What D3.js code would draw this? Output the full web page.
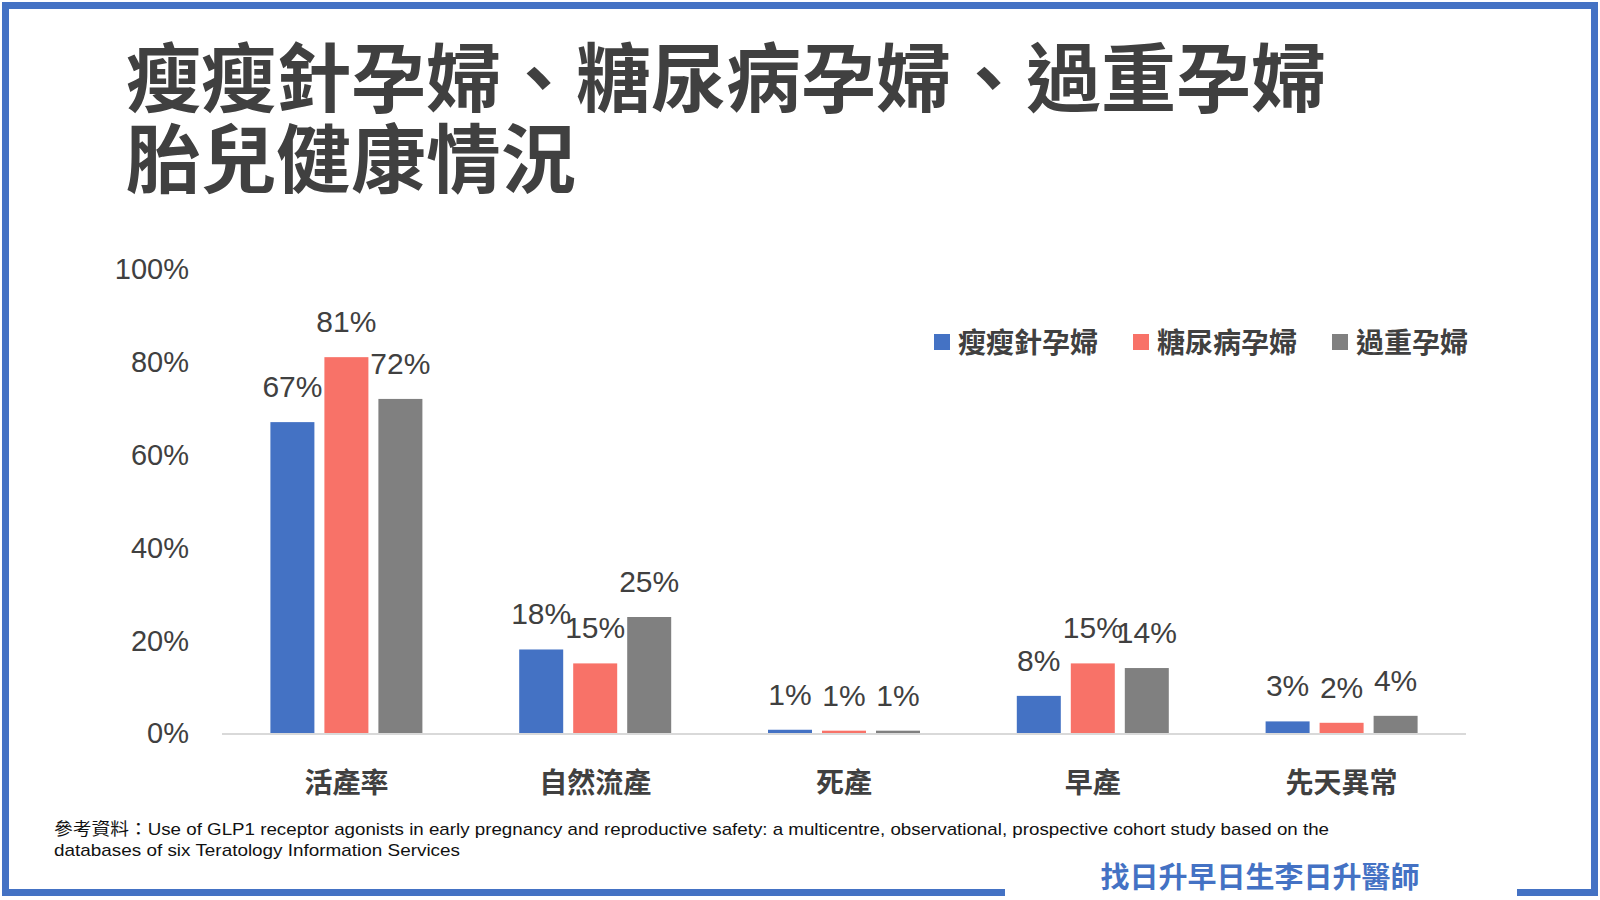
<!DOCTYPE html>
<html>
<head>
<meta charset="utf-8">
<script src="https://cdn.jsdelivr.net/npm/d3@7/dist/d3.min.js"></script>
<style>
  body { margin: 0; background: #fff; }
  svg { display: block; }
  .cjk { font-family: "Noto Sans CJK TC", "Noto Sans CJK SC", sans-serif; }
  .num { font-family: "Liberation Sans", Arial, "Noto Sans CJK TC", sans-serif; }
</style>
</head>
<body>
<div id="chart"></div>
<script>
(function() {
  'use strict';

  // data (percent)
  var categories = ['活產率', '自然流產', '死產', '早產', '先天異常'];
  var seriesNames = ['瘦瘦針孕婦', '糖尿病孕婦', '過重孕婦'];
  var glp1Values = [67, 18, 0.7, 8, 2.5];
  var diabetesValues = [81, 15, 0.5, 15, 2.2];
  var overweightValues = [72, 25, 0.5, 14, 3.7];
  var yTicks = [0, 20, 40, 60, 80, 100];

  var titleLines = ['瘦瘦針孕婦、糖尿病孕婦、過重孕婦', '胎兒健康情況'];
  var sourceLines = [
    '參考資料：Use of GLP1 receptor agonists in early pregnancy and reproductive safety: a multicentre, observational, prospective cohort study based on the',
    'databases of six Teratology Information Services'
  ];
  var signature = '找日升早日生李日升醫師';

  var colors = ['#4472c4', '#f87268', '#808080'];
  var textColor = '#404040';
  var W = 1600, H = 900;

  var seriesValues = [glp1Values, diabetesValues, overweightValues];
  var rows = categories.map(function(c, i) {
    return {
      cat: c,
      vals: seriesNames.map(function(s, j) {
        return { series: s, idx: j, value: seriesValues[j][i] };
      })
    };
  });

  var svg = d3.select('#chart').append('svg')
    .attr('width', W)
    .attr('height', H);

  svg.append('rect').attr('width', W).attr('height', H).attr('fill', '#fff');

  // frame, with a gap in the bottom edge for the signature
  svg.append('rect')
    .attr('x', 5.5).attr('y', 5.5)
    .attr('width', W - 11).attr('height', H - 13)
    .attr('fill', 'none')
    .attr('stroke', '#4472c4')
    .attr('stroke-width', 7);
  svg.append('rect')
    .attr('x', 1005).attr('y', 880)
    .attr('width', 512).attr('height', 20)
    .attr('fill', '#fff');

  // title (single text, two tspans)
  var title = svg.append('text')
    .attr('class', 'cjk')
    .attr('fill', textColor)
    .attr('font-size', 75)
    .attr('font-weight', 700);
  title.selectAll('tspan').data(titleLines).enter().append('tspan')
    .attr('x', 126)
    .attr('y', function(d, i) { return 106 + i * 81; })
    .text(function(d) { return d; });

  // scales
  var x0 = d3.scaleBand()
    .domain(categories)
    .range([222, 1466])
    .padding(0);

  var groupW = 152;
  var x1 = d3.scaleBand()
    .domain(seriesNames)
    .range([0, groupW])
    .paddingInner(10 / 54)
    .paddingOuter(0);

  var y = d3.scaleLinear()
    .domain([0, 100])
    .range([733, 269]);

  // y axis labels
  svg.append('g').selectAll('text')
    .data(yTicks)
    .enter().append('text')
    .attr('class', 'num')
    .attr('x', 189)
    .attr('y', function(d) { return y(d); })
    .attr('dy', '0.36em')
    .attr('text-anchor', 'end')
    .attr('fill', textColor)
    .attr('font-size', 29)
    .text(function(d) { return d + '%'; });

  // baseline
  svg.append('line')
    .attr('x1', x0.range()[0]).attr('x2', x0.range()[1])
    .attr('y1', y(0) + 1).attr('y2', y(0) + 1)
    .attr('stroke', '#d9d9d9')
    .attr('stroke-width', 2);

  var groups = svg.append('g').selectAll('g')
    .data(rows)
    .enter().append('g')
    .attr('transform', function(d) {
      return 'translate(' + (x0(d.cat) + (x0.bandwidth() - groupW) / 2) + ',0)';
    });

  groups.selectAll('rect')
    .data(function(d) { return d.vals; })
    .enter().append('rect')
    .attr('x', function(d) { return x1(d.series); })
    .attr('width', x1.bandwidth())
    .attr('y', function(d) { return y(d.value); })
    .attr('height', function(d) { return y(0) - y(d.value); })
    .attr('fill', function(d) { return colors[d.idx]; });

  groups.selectAll('text')
    .data(function(d) { return d.vals; })
    .enter().append('text')
    .attr('class', 'num')
    .attr('x', function(d) { return x1(d.series) + x1.bandwidth() / 2; })
    .attr('y', function(d) { return y(d.value) - 25; })
    .attr('text-anchor', 'middle')
    .attr('fill', textColor)
    .attr('font-size', 30)
    .text(function(d) { return Math.round(d.value) + '%'; });

  // category labels
  svg.append('g').selectAll('text')
    .data(categories)
    .enter().append('text')
    .attr('class', 'cjk')
    .attr('x', function(d) { return x0(d) + x0.bandwidth() / 2; })
    .attr('y', 793)
    .attr('text-anchor', 'middle')
    .attr('fill', textColor)
    .attr('font-size', 28)
    .attr('font-weight', 700)
    .text(function(d) { return d; });

  // legend
  var legendX = [934, 1133, 1332];
  var legend = svg.append('g').selectAll('g')
    .data(seriesNames)
    .enter().append('g')
    .attr('transform', function(d, i) { return 'translate(' + legendX[i] + ',342)'; });
  legend.append('rect')
    .attr('x', 0).attr('y', -8)
    .attr('width', 16).attr('height', 16)
    .attr('fill', function(d, i) { return colors[i]; });
  legend.append('text')
    .attr('class', 'cjk')
    .attr('x', 24)
    .attr('y', 10.5)
    .attr('fill', textColor)
    .attr('font-size', 28)
    .attr('font-weight', 700)
    .text(function(d) { return d; });

  // source note
  var sourceLen = [1275, 406];
  svg.selectAll('.src').data(sourceLines).enter().append('text')
    .attr('class', 'src num')
    .attr('x', 54)
    .attr('y', function(d, i) { return 835 + i * 21; })
    .attr('fill', '#111')
    .attr('font-size', 17)
    .attr('textLength', function(d, i) { return sourceLen[i]; })
    .attr('lengthAdjust', 'spacingAndGlyphs')
    .text(function(d) { return d; });

  // signature
  svg.append('text')
    .attr('class', 'cjk')
    .attr('x', 1260)
    .attr('y', 888)
    .attr('text-anchor', 'middle')
    .attr('fill', '#4472c4')
    .attr('font-size', 29)
    .attr('font-weight', 700)
    .text(signature);
})();
</script>
</body>
</html>
